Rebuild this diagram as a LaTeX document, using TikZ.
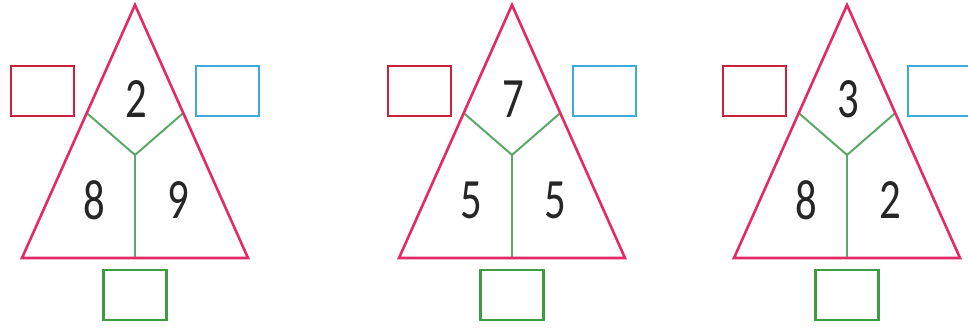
\documentclass[tikz,border=0pt]{standalone}
\usepackage{fontspec}
\newfontfamily\digitfont[FakeStretch=0.75]{Carlito}
\usetikzlibrary{calc}
\definecolor{tripink}{RGB}{226,42,102}
\definecolor{boxred}{RGB}{200,34,58}
\definecolor{boxblue}{RGB}{62,170,218}
\definecolor{boxgreen}{RGB}{62,156,66}
\definecolor{ygreen}{RGB}{92,168,104}
\tikzset{
  x=1pt, y=-1pt,
  triline/.style={draw=tripink, line width=2.6pt, line join=miter},
  yline/.style={draw=ygreen, line width=2pt},
  answerbox/.style={draw, line width=2.6pt, minimum width=63pt, minimum height=50pt, inner sep=0pt},
  redbox/.style={answerbox, draw=boxred},
  bluebox/.style={answerbox, draw=boxblue},
  greenbox/.style={answerbox, draw=boxgreen},
  digit/.style={font=\digitfont\fontsize{57}{57}\selectfont, text=black!85, inner sep=0pt}
}
\newcommand{\numtri}[5]{%
  % #1 center x, #2 name prefix, #3 top, #4 left, #5 right
  \coordinate (#2apex) at (#1,5);
  \coordinate (#2bl) at (#1-113,258);
  \coordinate (#2br) at (#1+113,258);
  \coordinate (#2mid) at (#1,155);
  \coordinate (#2bot) at (#1,258);
  \coordinate (#2yl) at ($(#2apex)!0.427!(#2bl)$);
  \coordinate (#2yr) at ($(#2apex)!0.427!(#2br)$);
  \draw[yline] (#2yl) -- (#2mid) -- (#2yr);
  \draw[yline] (#2mid) -- (#2bot);
  \draw[triline] (#2apex) -- (#2bl) -- (#2br) -- cycle;
  \node[redbox] (#2red) at (#1-92.5,91) {};
  \node[bluebox] (#2blue) at (#1+92.5,91) {};
  \node[greenbox] (#2green) at (#1,295) {};
  \node[digit] (#2top) at (#1+1,99) {#3};
  \node[digit] (#2left) at (#1-41,200) {#4};
  \node[digit] (#2right) at (#1+43,200) {#5};
}
\begin{document}
\begin{tikzpicture}
\useasboundingbox (0,0) rectangle (968,328);
\fill[white] (0,0) rectangle (968,328);
\numtri{135}{a}{2}{8}{9}
\numtri{512}{b}{7}{5}{5}
\numtri{847}{c}{3}{8}{2}
\end{tikzpicture}
\end{document}
